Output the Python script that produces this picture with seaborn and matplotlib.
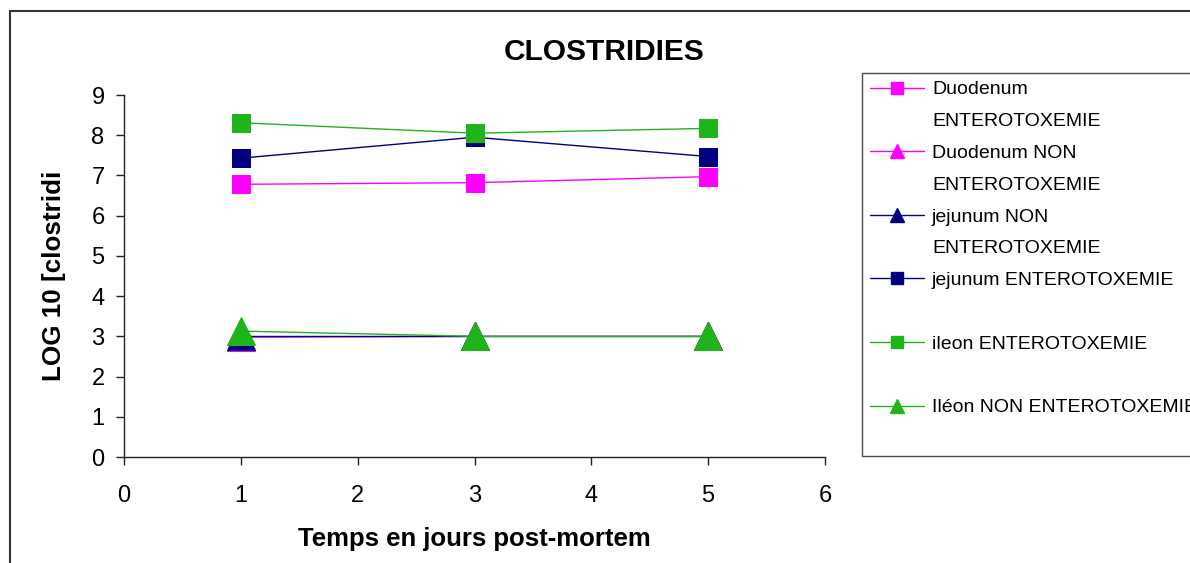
import matplotlib
matplotlib.use("Agg")
import matplotlib.pyplot as plt
from matplotlib.lines import Line2D
from matplotlib.patches import Rectangle
import seaborn as sns
import pandas as pd

# Bacterial counts (log10) by day post-mortem, per intestinal segment and status
days = [1, 3, 5]
duodenum_ent = [6.78, 6.82, 6.97]
duodenum_non = [2.98, 3.0, 3.0]
jejunum_non = [3.0, 3.0, 3.0]
jejunum_ent = [7.43, 7.95, 7.47]
ileon_ent = [8.31, 8.05, 8.17]
ileon_non = [3.13, 3.0, 3.0]

series_names = [
    "Duodenum ENTEROTOXEMIE",
    "Duodenum NON ENTEROTOXEMIE",
    "jejunum NON ENTEROTOXEMIE",
    "jejunum ENTEROTOXEMIE",
    "ileon ENTEROTOXEMIE",
    "Iléon NON ENTEROTOXEMIE",
]
series_values = [duodenum_ent, duodenum_non, jejunum_non, jejunum_ent, ileon_ent, ileon_non]
legend_lines = [
    ["Duodenum", "ENTEROTOXEMIE"],
    ["Duodenum NON", "ENTEROTOXEMIE"],
    ["jejunum NON", "ENTEROTOXEMIE"],
    ["jejunum ENTEROTOXEMIE", ""],
    ["ileon ENTEROTOXEMIE", ""],
    ["Iléon NON ENTEROTOXEMIE", ""],
]

MAGENTA = "#ff00ff"
NAVY = "#000080"
GREEN = "#1fb51a"
colors = [MAGENTA, MAGENTA, NAVY, NAVY, GREEN, GREEN]
markers = ["s", "^", "^", "s", "s", "^"]

df = pd.DataFrame(
    [(name, d, v) for name, vals in zip(series_names, series_values) for d, v in zip(days, vals)],
    columns=["serie", "jour", "log10"],
)

sns.set_style("white")
plt.rcParams["font.family"] = ["Liberation Sans", "DejaVu Sans"]
plt.rcParams["text.color"] = "black"
plt.rcParams["axes.labelcolor"] = "black"

fig = plt.figure(figsize=(11.9, 5.63), dpi=100)
ax = fig.add_axes([124 / 1190, 1 - 457 / 563, 701 / 1190, 362 / 563])

for name, col, mk in zip(series_names, colors, markers):
    sub = df[df["serie"] == name]
    sns.lineplot(
        data=sub, x="jour", y="log10", ax=ax, color=col, marker=mk,
        markersize=20 if mk == "^" else 13.5, markeredgecolor=col,
        linewidth=1.0, legend=False, errorbar=None,
    )

ax.set_xlim(0, 6)
ax.set_ylim(0, 9)
ax.set_xticks(range(0, 7))
ax.set_yticks(range(0, 10))
for s in ("top", "right"):
    ax.spines[s].set_visible(False)
for s in ("left", "bottom"):
    ax.spines[s].set_color("#222222")
    ax.spines[s].set_linewidth(1.0)
ax.tick_params(axis="both", direction="out", length=6, width=1.0, color="#222222",
               labelsize=17, labelcolor="black")
ax.tick_params(axis="y", pad=8, left=True)
ax.tick_params(axis="x", pad=14, bottom=True)

ax.set_xlabel("Temps en jours post-mortem", fontsize=18.5, fontweight="bold")
ax.set_ylabel("LOG 10 [clostridi", fontsize=18.7, fontweight="bold")
ax.xaxis.set_label_coords(0.5, -0.193)
ax.yaxis.set_label_coords(-0.083, 0.5)

fig.text(604 / 1190, 1 - 52 / 563, "CLOSTRIDIES", fontsize=21.5, fontweight="bold",
         ha="center", va="center")

# Legend: one row per text line, handle on the first line of each entry
handles, labels = [], []
for col, mk, lines in zip(colors, markers, legend_lines):
    handles.append(Line2D([], [], color=col, marker=mk, markeredgecolor=col,
                          markersize=9.5 if mk == "^" else 8, linewidth=1.0))
    labels.append(lines[0])
    handles.append(Line2D([], [], color="none", marker=None))
    labels.append(lines[1])

leg = fig.legend(handles, labels, loc="upper left",
                 bbox_to_anchor=(862 / 1190, 1 - 73 / 563),
                 bbox_transform=fig.transFigure, borderaxespad=0,
                 fontsize=14, handlelength=2.8, handletextpad=0.4,
                 labelspacing=0.73, borderpad=0.4, frameon=True, fancybox=False)
leg.get_frame().set_edgecolor("#222222")
leg.get_frame().set_linewidth(1.0)

# Outer chart border
fig.add_artist(Rectangle((10 / 1190, -0.1), 1.2, 1 - 11 / 563 + 0.1,
                         transform=fig.transFigure, fill=False,
                         edgecolor="#333333", linewidth=1.5, clip_on=False))

fig.savefig("out.png", dpi=100, facecolor="white")
